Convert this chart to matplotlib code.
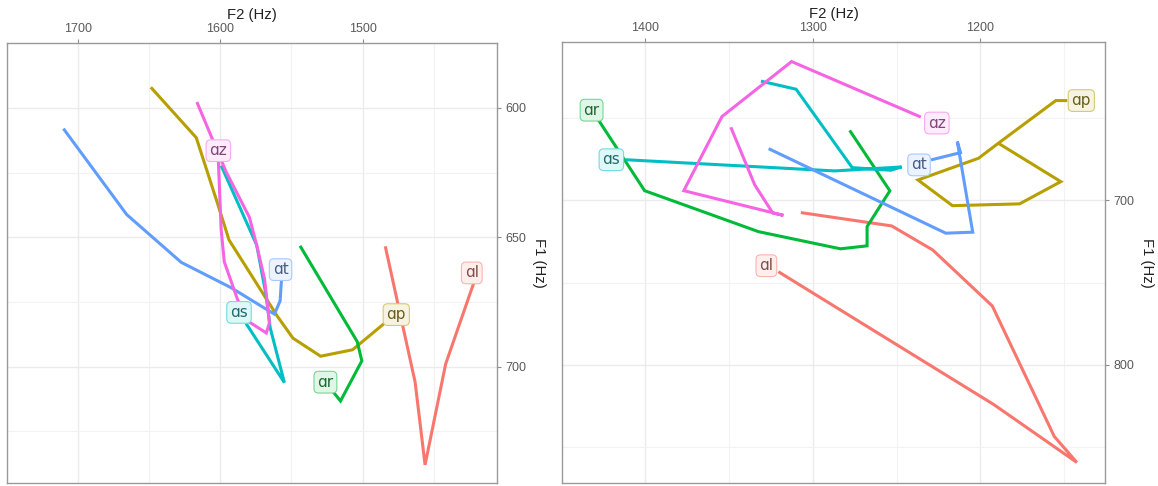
import numpy as np
import matplotlib
matplotlib.use('Agg')
import matplotlib.pyplot as plt
from matplotlib import colors as mcolors

plt.rcParams['font.family'] = ['Liberation Sans', 'DejaVu Sans']

# ---- data: formant trajectories (F2, F1 in Hz), one list per vowel context ----
groups = ['ɑl', 'ɑp', 'ɑr', 'ɑs', 'ɑt', 'ɑz']
palette = ['#F8766D', '#B79F00', '#00BA38', '#00BFC4', '#619CFF', '#F564E3']

# left panel
left_f2 = {
    'ɑl': [1484, 1463, 1456, 1441.5, 1421],
    'ɑp': [1649, 1617, 1602, 1594, 1560, 1549, 1529.5, 1507, 1484],
    'ɑr': [1544, 1503.7, 1500.5, 1515.5, 1520.5],
    'ɑs': [1599.5, 1574.5, 1568, 1565, 1555, 1582],
    'ɑt': [1710.5, 1666, 1627.6, 1592.5, 1569, 1562, 1558, 1557],
    'ɑz': [1616.6, 1596, 1579.6, 1574.3, 1569, 1565.5, 1567.7, 1580.5, 1588, 1597.3, 1599.5, 1601.5],
}
left_f1 = {
    'ɑl': [653.5, 706, 738, 699, 666.5],
    'ɑp': [592, 611.5, 637, 651, 680.5, 689, 696, 693.5, 683],
    'ɑr': [653.3, 690.4, 697.8, 713.3, 709.9],
    'ɑs': [622.3, 653, 672, 685, 706.2, 683.3],
    'ɑt': [608, 641.2, 659.7, 669.5, 677.4, 679.7, 674.6, 666],
    'ɑz': [597.7, 624.7, 642.3, 653.5, 666, 683, 687, 682.5, 674, 659.5, 647, 620],
}

# right panel
right_f2 = {
    'ɑl': [1307.2, 1252.9, 1228.4, 1192.8, 1155.8, 1142.3, 1192, 1320.6],
    'ɑp': [1189.2, 1151.9, 1176.5, 1216.6, 1237.2, 1201, 1189.2, 1154.9, 1148],
    'ɑr': [1278, 1254, 1267.6, 1267.6, 1283.5, 1332.4, 1400.5, 1428],
    'ɑs': [1331, 1310, 1276.5, 1253.5, 1247, 1287, 1412],
    'ɑt': [1326.4, 1220.6, 1204.5, 1213.7, 1211.8, 1229.4],
    'ɑz': [1349, 1334.7, 1324, 1317.6, 1377.1, 1354.3, 1312.7, 1235.5],
}
right_f1 = {
    'ɑl': [707.5, 715.6, 730.2, 764.2, 843.4, 859.2, 824, 743.4],
    'ɑp': [665.4, 688.7, 702.2, 703.3, 687.7, 674.5, 665.4, 639.5, 639.5],
    'ɑr': [657.6, 694.3, 716, 727.7, 729.5, 719.1, 694.2, 651.4],
    'ɑs': [627.7, 632.6, 680.2, 681.8, 679.8, 682.2, 675.4],
    'ɑt': [668.7, 720, 719.4, 664.4, 671.1, 675.5],
    'ɑz': [655.7, 690.7, 707.7, 709.2, 694.2, 649.2, 615.8, 649.5],
}

left_xticks = [1700, 1600, 1500]
left_yticks = [600, 650, 700]
right_xticks = [1400, 1300, 1200]
right_yticks = [700, 800]

# label nudges (pixels) from the end of each trajectory
left_nudge = {'ɑl': (-3, 7), 'ɑp': (11, 8), 'ɑr': (-8, 10),
              'ɑs': (-7, 11), 'ɑt': (-1, 9), 'ɑz': (0, 9)}
right_nudge = {'ɑl': (-12, 6), 'ɑp': (14, 0), 'ɑr': (-7, 10),
               'ɑs': (-14, 0), 'ɑt': (-12, -5), 'ɑz': (16, -6)}


def mix(c, other, t):
    a = np.array(mcolors.to_rgb(c))
    b = np.array(mcolors.to_rgb(other))
    return tuple(a * (1 - t) + b * t)


def draw_panel(ax, f2, f1, nudge, xlim, ylim, xticks, yticks):
    ax.set_facecolor('white')
    for g, col in zip(groups, palette):
        ax.plot(f2[g], f1[g], color=col, lw=2.2, solid_capstyle='butt',
                solid_joinstyle='miter', zorder=3)
    for g, col in zip(groups, palette):
        ax.annotate(g, xy=(f2[g][-1], f1[g][-1]), xytext=nudge[g],
                    textcoords='offset pixels', ha='center', va='center',
                    fontsize=11, family='DejaVu Sans', color=mix(col, '#333333', 0.6),
                    zorder=5,
                    bbox=dict(boxstyle='round,pad=0.22,rounding_size=0.3',
                              fc=mix(col, 'white', 0.88), ec=mix(col, 'white', 0.45),
                              lw=0.8))

    ax.set_xlim(*xlim)
    ax.set_ylim(*ylim)
    ax.set_xticks(xticks)
    ax.set_yticks(yticks)
    # minor gridlines halfway between the majors
    xs = np.array(xticks, dtype=float)
    ys = np.array(yticks, dtype=float)
    dx = xs[0] - xs[1]
    dy = ys[1] - ys[0]
    xminor = np.arange(xs[0] + dx / 2, xs[-1] - dx, -dx)
    yminor = np.arange(ys[0] - dy / 2, ys[-1] + dy, dy)
    ax.set_xticks(xminor, minor=True)
    ax.set_yticks(yminor, minor=True)
    ax.grid(which='major', color='#EBEBEB', lw=1.0, zorder=0)
    ax.grid(which='minor', color='#F2F2F2', lw=0.8, zorder=0)
    ax.tick_params(which='minor', length=0)

    ax.xaxis.tick_top()
    ax.xaxis.set_label_position('top')
    ax.yaxis.tick_right()
    ax.yaxis.set_label_position('right')
    ax.tick_params(which='major', length=3, width=0.8, color='#8C8C8C',
                   labelsize=9, labelcolor='#5A5A5A', pad=3)
    for s in ax.spines.values():
        s.set_color('#9A9A9A')
        s.set_linewidth(1.0)

    ax.set_xlabel('F2 (Hz)', fontsize=10.7, color='#222222', labelpad=3)
    ax.set_ylabel('F1 (Hz)', fontsize=10.7, color='#222222', rotation=-90,
                  labelpad=14)


fig = plt.figure(figsize=(11.58, 4.86), dpi=100)
ax1 = fig.add_axes([0.0063, 0.0068, 0.4231, 0.9041])
ax2 = fig.add_axes([0.4851, 0.0068, 0.4694, 0.9062])

draw_panel(ax1, left_f2, left_f1, left_nudge, (1725.5, 1405.2), (744.9, 584.5),
           left_xticks, left_yticks)
draw_panel(ax2, right_f2, right_f1, right_nudge, (1445.1, 1125.3), (871.5, 604.1),
           right_xticks, right_yticks)

fig.savefig('out.png', dpi=100, facecolor='white')
